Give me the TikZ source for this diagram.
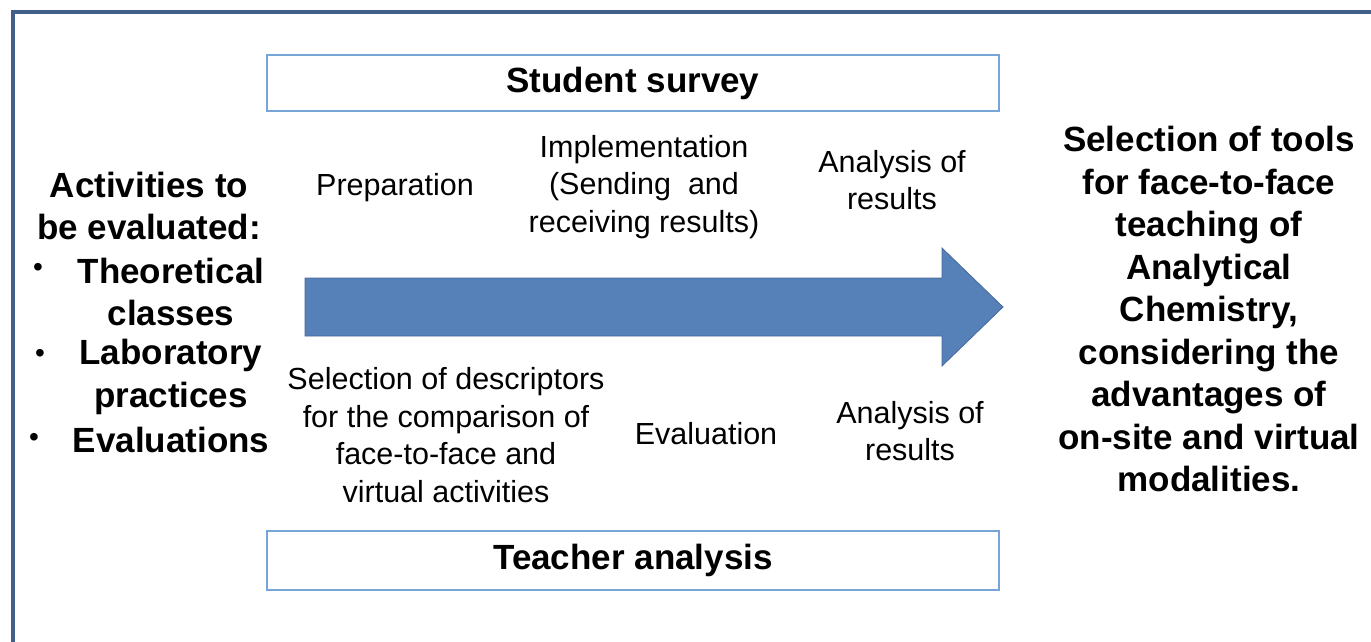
\documentclass[tikz,border=0pt]{standalone}
\usepackage{fontspec}
\setmainfont{Liberation Sans}
\definecolor{framec}{RGB}{66,95,138}
\definecolor{boxc}{RGB}{120,165,215}
\definecolor{arrowfill}{RGB}{86,128,184}
\definecolor{arrowedge}{RGB}{70,105,155}
\begin{document}
\begin{tikzpicture}[x=1pt,y=-1pt,
  bigtxt/.style={font=\fontsize{35}{42.5}\selectfont\bfseries, align=center, inner sep=0pt},
  smalltxt/.style={font=\fontsize{30.5}{37.5}\selectfont, align=center, inner sep=0pt},
  bulletmark/.style={font=\fontsize{28}{30}\selectfont, inner sep=0pt},
  phasebox/.style={draw=boxc, line width=2pt, minimum width=732pt, inner sep=0pt,
    font=\fontsize{35}{42.5}\selectfont\bfseries}]
\useasboundingbox (0,0) rectangle (1371,641);
\clip (0,0) rectangle (1371,641);
% outer frame
\draw[framec, line width=3.2pt] (13,12) rectangle (1400,680);
% phase boxes
\node[phasebox, minimum height=56pt] (survey) at (633,83) {\raisebox{-2pt}{Student survey}};
\node[phasebox, minimum height=59pt] (teacher) at (633,560.5) {\raisebox{-2pt}{Teacher analysis}};
% big arrow
\draw[fill=arrowfill, draw=arrowedge, line width=0.8pt]
  (305,278) -- (942,278) -- (942,248) -- (1003,307) -- (942,366) -- (942,336) -- (305,336) -- cycle;
% left text
\node[bigtxt] (act) at (149,206) {Activities to\\be evaluated:};
\node[bulletmark] (b1) at (38,270) {•};
\node[bigtxt] (theo) at (171,292) {Theoretical\\classes};
\node[bulletmark] (b2) at (40,356) {•};
\node[bigtxt] (lab) at (171,377) {Laboratory\\practices};
\node[bulletmark] (b3) at (34,440) {•};
\node[bigtxt] (eval) at (171,440) {Evaluations};
% right text
\node[bigtxt] (sel) at (1209,309) {Selection of tools\\for face-to-face\\teaching of\\Analytical\\Chemistry,\\considering the\\advantages of\\on-site and virtual\\modalities.};
% upper labels
\node[smalltxt] (prep) at (395,188) {Preparation};
\node[smalltxt] (impl) at (644,187) {Implementation\\(Sending~ and\\receiving results)};
\node[smalltxt] (anu) at (892,180) {Analysis of\\results};
% lower labels
\node[smalltxt] (desc) at (446,435) {Selection of descriptors\\for the comparison of\\face-to-face and\\virtual activities};
\node[smalltxt] (evl) at (706,434) {Evaluation};
\node[smalltxt] (anl) at (910,431) {Analysis of\\results};
\end{tikzpicture}
\end{document}
